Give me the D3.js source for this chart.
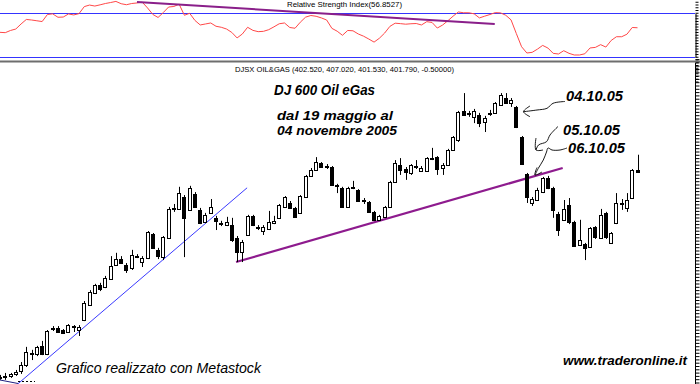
<!DOCTYPE html>
<html>
<head>
<meta charset="utf-8">
<script src="https://cdn.jsdelivr.net/npm/d3@7"></script>
<style>
  body { margin: 0; background: #fff; }
  svg { display: block; font-family: "Liberation Sans", Arial, sans-serif; }
</style>
</head>
<body>
<svg id="chart"></svg>
<script>
// DJSX OIL&GAS daily bars, 19 May - 04 Nov 2005
const opens = [339.4,339.7,340.0,340.6,341.5,343.3,347.0,346.6,349.1,346.6,
  354.2,354.5,353.9,353.3,355.1,353.9,357.0,361.5,365.1,367.6,
  367.0,369.4,373.6,375.4,373.6,372.7,376.3,374.5,375.7,383.0,
  378.2,376.0,381.8,390.9,390.6,394.2,390.3,395.1,390.3,386.6,
  389.4,387.9,386.3,385.7,385.7,381.8,377.6,382.7,388.5,385.1,
  383.9,384.5,386.3,387.9,391.2,392.4,390.9,389.4,394.2,400.6,
  402.4,404.5,403.6,403.3,397.9,397.0,391.2,397.3,396.3,393.3,
  392.7,389.7,387.3,388.2,391.2,398.8,403.9,402.7,401.5,403.6,
  402.1,402.1,406.0,406.3,403.0,403.9,408.5,411.5,420.3,419.7,
  418.5,419.1,417.0,419.7,419.7,422.1,424.2,422.7,421.5,412.4,
  401.2,392.4,393.3,395.7,400.0,397.0,389.1,387.3,391.8,386.6,
  379.7,380.0,379.1,385.1,381.8,389.4,380.3,386.3,392.4,390.9,
  393.9,402.52];
const highs = [340.3,340.9,340.9,341.8,344.2,348.8,347.9,349.1,350.6,353.9,
  355.1,355.1,354.2,355.7,355.4,355.4,362.7,366.0,367.9,368.2,
  370.3,376.3,377.3,376.3,374.2,378.2,376.9,376.3,383.9,383.3,
  378.8,382.4,391.2,392.1,397.3,394.8,397.6,395.7,390.9,389.4,
  393.6,388.5,387.0,388.2,387.9,382.4,381.2,388.8,388.8,385.7,
  385.7,390.0,388.5,392.1,394.5,393.0,391.2,394.8,400.9,403.0,
  406.3,404.8,404.2,403.6,398.2,397.3,397.3,399.1,396.6,393.9,
  393.0,390.0,388.8,391.5,399.1,405.4,406.0,403.3,404.2,405.4,
  403.6,406.3,409.1,406.6,404.5,408.8,412.7,420.3,425.7,420.3,
  420.9,419.7,418.8,420.6,423.0,425.7,425.7,424.2,421.8,412.7,
  401.5,394.2,397.0,400.3,400.6,397.3,389.7,393.3,393.9,387.0,
  387.3,380.3,385.1,385.4,390.6,389.7,383.6,395.4,393.6,395.4,
  402.7,407.02];
const lows = [338.8,338.8,339.4,340.0,340.6,342.7,344.8,346.0,346.3,346.3,
  353.6,353.0,352.7,353.0,353.3,352.1,356.6,361.2,364.8,365.7,
  366.6,369.1,373.3,373.9,371.2,372.1,375.7,373.0,375.4,378.5,
  375.4,375.1,381.5,389.7,390.3,376.0,390.0,390.9,386.0,386.3,
  389.1,384.2,385.4,385.4,380.6,374.5,374.5,382.4,385.4,384.2,
  382.7,384.2,386.0,387.6,390.9,390.6,387.9,389.1,393.9,400.3,
  402.1,403.0,402.7,397.6,395.4,390.9,390.9,396.6,392.7,392.1,
  389.4,387.0,387.0,387.9,390.9,398.5,400.9,399.4,400.9,402.7,
  401.8,401.8,405.4,400.9,400.9,403.6,408.2,410.9,418.8,418.5,
  416.6,415.4,413.9,418.8,419.4,421.8,422.4,421.5,415.1,403.9,
  392.4,391.5,393.0,395.4,396.6,387.9,382.4,387.0,386.0,379.1,
  379.4,375.1,378.8,381.5,381.5,381.5,380.0,386.0,390.3,389.7,
  393.6,401.53];
const closes = [339.7,340.0,340.6,341.2,343.3,347.3,346.6,348.8,346.6,353.6,
  354.5,353.3,353.0,355.4,354.8,354.8,362.1,365.4,367.6,366.3,
  369.7,373.3,375.4,374.2,372.1,376.6,376.2,375.7,383.6,378.8,
  376.3,382.1,390.6,390.6,395.4,387.9,397.0,391.2,386.3,388.8,
  391.2,387.0,386.2,386.6,381.2,377.6,380.6,388.5,385.7,385.0,
  385.1,386.6,387.0,391.8,394.2,390.9,388.2,394.5,400.6,402.4,
  404.8,403.3,403.5,397.9,397.6,391.2,397.0,397.1,393.0,393.2,
  389.7,387.3,388.5,391.2,398.8,404.5,402.4,401.8,403.9,403.5,
  403.0,406.0,405.9,402.7,403.9,408.5,412.4,420.0,419.1,419.5,
  420.3,416.6,418.2,419.5,422.7,425.1,422.7,423.6,415.4,404.2,
  394.2,393.6,396.3,400.0,397.0,390.3,384.2,390.6,386.6,379.4,
  381.2,378.8,384.8,382.1,388.8,382.1,383.3,392.4,392.3,393.3,
  402.4,401.79];

// Relative Strength Index, one value per bar
const rsi = [52.7,52.4,54.4,55.7,60.3,64.4,63.9,63.2,62.5,68.9,
  69.5,66.4,66.6,69.4,68.5,69.7,76.1,77.5,76.6,77.7,
  78.9,79.8,80.8,78.7,77.8,78.9,79.4,80.1,74.9,69.0,
  66.2,70.7,75.7,76.2,78.3,68.2,70.0,63.5,59.4,60.3,
  61.2,58.2,57.3,55.7,52.6,47.6,51.2,57.3,54.5,53.3,
  53.6,55.1,57.7,60.5,61.2,57.1,56.4,61.9,66.5,68.0,
  67.3,65.8,63.9,56.3,53.7,50.0,54.4,54.1,51.2,49.2,
  46.6,43.8,47.3,52.0,58.1,61.0,60.6,60.1,60.5,60.7,
  59.4,62.4,61.7,56.6,59.3,63.2,67.4,71.2,70.5,70.5,
  69.5,65.8,67.4,68.9,70.6,70.4,68.2,64.0,51.6,39.6,
  33.9,34.5,37.4,40.8,38.4,33.6,33.0,36.0,33.6,32.1,
  32.1,33.2,38.5,39.0,41.5,39.3,45.3,48.7,48.7,51.0,
  57.1,56.85];
const rsiLevels = [70, 30];

// trend lines: [bar index, value]
const rsiTrend = [[26, 80.3], [93.9, 60.3]];
const upTrend = [[3.4, 337.6], [46.9, 397.0]];
const supportTrend = [[44.8, 374.5], [106.8, 403.0]];

const W = 700, H = 384;
const svg = d3.select("#chart").attr("width", W).attr("height", H);
svg.append("rect").attr("width", W).attr("height", H).attr("fill", "#fff");

const x = d3.scaleLinear().domain([0, 121]).range([0, 637.5]);
const y = d3.scaleLinear().domain([340, 430]).range([375.9, 78.9]);
const yR = d3.scaleLinear().domain([30, 70]).range([57.3, 13.3]);
const idx = d3.range(closes.length);
const px = i => Math.round(x(i));

// ---- RSI panel ----
const rsiG = svg.append("g");
rsiG.selectAll("line.lvl").data(rsiLevels).join("line")
  .attr("x1", 0).attr("x2", 695)
  .attr("y1", d => Math.round(yR(d)) + 0.5).attr("y2", d => Math.round(yR(d)) + 0.5)
  .attr("stroke", "#3434ff").attr("stroke-width", 1);

rsiG.append("path")
  .datum(idx)
  .attr("d", d3.line().x(i => x(i)).y(i => yR(rsi[i])))
  .attr("fill", "none").attr("stroke", "#ff4848").attr("stroke-width", 1);

rsiG.append("path")
  .datum(rsiTrend)
  .attr("d", d3.line().x(d => x(d[0])).y(d => yR(d[1])))
  .attr("fill", "none").attr("stroke", "#8a1f8a").attr("stroke-width", 2);

rsiG.append("text")
  .attr("x", 287).attr("y", 6.5)
  .attr("font-size", 8).attr("fill", "#000")
  .attr("textLength", 115).attr("lengthAdjust", "spacingAndGlyphs")
  .text("Relative Strength Index(56.8527)");

rsiG.append("g")
  .attr("transform", "translate(695.5,0)")
  .call(d3.axisRight(yR).tickValues(d3.range(8, 86, 2.5)).tickSize(3).tickSizeOuter(0).tickFormat(""))
  .call(a => a.selectAll("path,line").attr("stroke", "#000"));

// separator
svg.append("line")
  .attr("x1", 0).attr("x2", W).attr("y1", 61.5).attr("y2", 61.5)
  .attr("stroke", "#6e6e6e").attr("stroke-width", 2);

// ---- price panel ----
svg.append("text")
  .attr("x", 235).attr("y", 72)
  .attr("font-size", 7.5).attr("fill", "#000")
  .attr("textLength", 219).attr("lengthAdjust", "spacingAndGlyphs")
  .text("DJSX OIL&GAS (402.520, 407.020, 401.530, 401.790, -0.50000)");

svg.append("g")
  .attr("transform", "translate(695.5,0)")
  .call(d3.axisRight(y).tickValues(d3.range(333, 437, 1)).tickSize(4).tickSizeOuter(0).tickFormat(""))
  .call(a => a.select(".domain").attr("d", "M0,63V384"))
  .call(a => a.selectAll("line").attr("stroke", "#000"));

// trend lines under candles
svg.append("path")
  .datum(upTrend)
  .attr("d", d3.line().x(d => x(d[0])).y(d => y(d[1])))
  .attr("stroke", "#3a3aff").attr("stroke-width", 1).attr("fill", "none");

svg.append("path")
  .datum(supportTrend)
  .attr("d", d3.line().x(d => x(d[0])).y(d => y(d[1])))
  .attr("stroke", "#8e1b8e").attr("stroke-width", 2.2).attr("fill", "none");

// candles
const cg = svg.append("g");
cg.selectAll("line.wick").data(idx).join("line")
  .attr("x1", i => px(i) + 0.5).attr("x2", i => px(i) + 0.5)
  .attr("y1", i => y(highs[i])).attr("y2", i => y(lows[i]))
  .attr("stroke", "#000").attr("stroke-width", 1);

cg.selectAll("rect.body").data(idx).join("rect")
  .attr("x", i => px(i) - 1.5)
  .attr("width", 3)
  .attr("y", i => Math.round(y(Math.max(opens[i], closes[i]))) + 0.5)
  .attr("height", i => Math.max(1, Math.round(Math.abs(y(opens[i]) - y(closes[i])))))
  .attr("fill", i => closes[i] >= opens[i] ? "#fff" : "#000")
  .attr("stroke", "#000").attr("stroke-width", 1);

// ---- annotations ----
const txt = (s, tx, ty, len, opts = {}) => svg.append("text")
  .attr("x", tx).attr("y", ty)
  .attr("font-size", opts.size || 14)
  .attr("font-style", "italic")
  .attr("font-weight", opts.weight || "bold")
  .attr("fill", "#000")
  .attr("textLength", len).attr("lengthAdjust", "spacingAndGlyphs")
  .text(s);

txt("DJ 600 Oil eGas", 274, 95, 101);
txt("dal 19 maggio al", 277, 120, 116, { size: 13 });
txt("04 novembre 2005", 277, 135, 120, { size: 13 });
txt("04.10.05", 566, 100.5, 57);
txt("05.10.05", 563, 135, 57);
txt("06.10.05", 568, 153, 57);
txt("Grafico realizzato con Metastock", 56, 373, 205, { weight: "normal" });
txt("www.traderonline.it", 563, 365, 124, { size: 13.5 });

const hand = d3.line().curve(d3.curveCatmullRom);
const arrows = [
  [[565, 101.5], [553, 103.3], [547, 108.3], [537, 110], [523.5, 111.7]],
  [[530, 106], [523.5, 111.7], [530, 116.7]],
  [[558, 126.5], [550, 135], [546.5, 141.7], [538.5, 145], [536, 150]],
  [[536, 138], [536, 150], [543, 150]],
  [[567, 148], [560, 150], [552, 150], [548, 148], [546.5, 152], [543.3, 160], [538.3, 168.3], [535, 175]],
  [[537, 167.5], [535, 175], [542, 172]]
];
svg.selectAll("path.arrow").data(arrows).join("path")
  .attr("d", d => hand(d))
  .attr("fill", "none").attr("stroke", "#000").attr("stroke-width", 0.9);

// small marks at bottom left
svg.append("line").attr("x1", 0).attr("y1", 380).attr("x2", 18).attr("y2", 383.5)
  .attr("stroke", "#202080").attr("stroke-width", 1);
svg.append("line").attr("x1", 18).attr("y1", 381.5).attr("x2", 35).attr("y2", 381.5)
  .attr("stroke", "#000").attr("stroke-dasharray", "2,2");
</script>
</body>
</html>
